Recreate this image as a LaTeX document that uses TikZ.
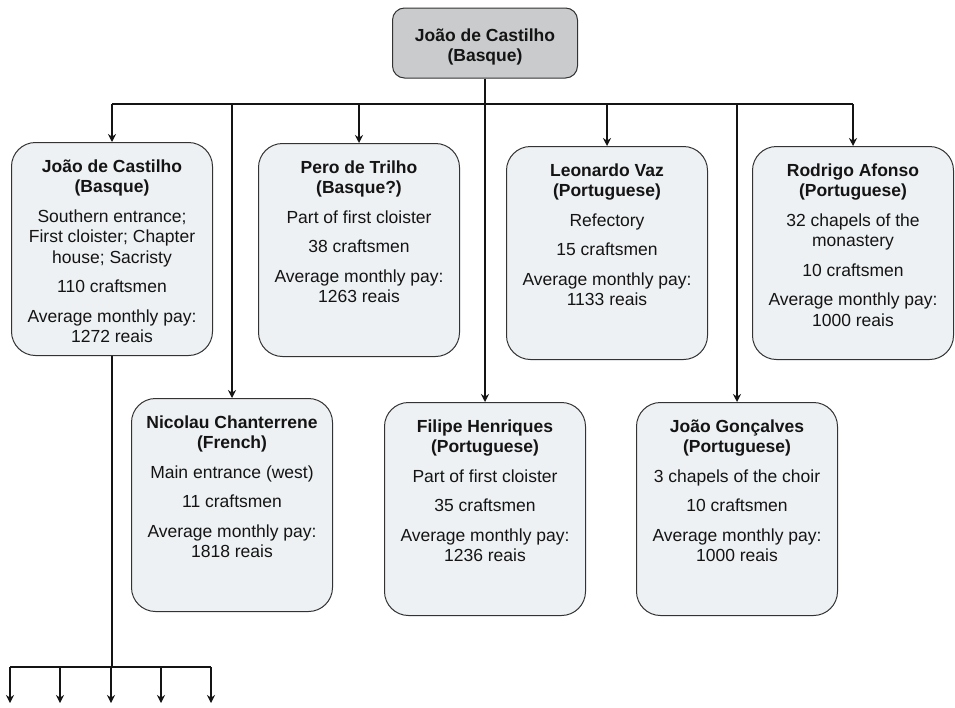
\documentclass[tikz,border=0pt]{standalone}
\usepackage{fontspec}
\setmainfont{Liberation Sans}
\usetikzlibrary{arrows.meta}
\definecolor{boxfill}{HTML}{EEF1F3}
\definecolor{headfill}{HTML}{C9CBCC}
\definecolor{boxline}{HTML}{333333}
\definecolor{ink}{HTML}{141414}
\begin{document}
\begin{tikzpicture}[x=1pt, y=-1pt, >={Stealth[length=8pt,width=8pt]}, line width=1.7pt, color=ink]
        \tikzset{%
         every crew/.style={
            draw=boxline,
            fill=boxfill,
            line width=1pt,
            rounded corners=24pt,
            inner sep=0pt,
            anchor=north,
            execute at begin node={\begin{minipage}[c][213pt][t]{201pt}\centering\fontsize{17.5}{20.5}\selectfont\vspace*{17pt}},
            execute at end node={\end{minipage}}},
         master/.style={
            draw=boxline,
            fill=headfill,
            line width=1pt,
            rounded corners=12pt,
            minimum width=185pt,
            minimum height=70pt,
            align=center,
            font=\bfseries\fontsize{17.5}{20.5}\selectfont},
        }
        \useasboundingbox (0,0) rectangle (955,707);

        \node [master] (master) at (485,43) {\rule{0pt}{21pt}João de Castilho\\(Basque)};

        % first row
        \node [every crew] (castilho) at (112,142) {\textbf{João de Castilho}\\\textbf{(Basque)}\\[9pt]
            Southern entrance;\\First cloister; Chapter\\house; Sacristy\\[9pt]
            110 craftsmen\\[9pt]Average monthly pay:\\1272 reais};
        \node [every crew] (trilho) at (359,143) {\textbf{Pero de Trilho}\\\textbf{(Basque?)}\\[9pt]
            Part of first cloister\\[9pt]38 craftsmen\\[9pt]Average monthly pay:\\1263 reais};
        \node [every crew] (vaz) at (607,146) {\textbf{Leonardo Vaz}\\\textbf{(Portuguese)}\\[9pt]
            Refectory\\[9pt]15 craftsmen\\[9pt]Average monthly pay:\\1133 reais};
        \node [every crew] (afonso) at (853,146) {\textbf{Rodrigo Afonso}\\\textbf{(Portuguese)}\\[9pt]
            32 chapels of the\\monastery\\[9pt]10 craftsmen\\[9pt]Average monthly pay:\\1000 reais};

        % second row
        \node [every crew] (chanterrene) at (232,398) {\textbf{Nicolau Chanterrene}\\\textbf{(French)}\\[9pt]
            Main entrance (west)\\[9pt]11 craftsmen\\[9pt]Average monthly pay:\\1818 reais};
        \node [every crew] (henriques) at (485,402) {\textbf{Filipe Henriques}\\\textbf{(Portuguese)}\\[9pt]
            Part of first cloister\\[9pt]35 craftsmen\\[9pt]Average monthly pay:\\1236 reais};
        \node [every crew] (goncalves) at (737,402) {\textbf{João Gonçalves}\\\textbf{(Portuguese)}\\[9pt]
            3 chapels of the choir\\[9pt]10 craftsmen\\[9pt]Average monthly pay:\\1000 reais};

        \coordinate (bus) at (0,104);
        \draw [->] (master.south) -- (henriques.north);
        \draw (castilho.north |- bus) -- (afonso.north |- bus);
        \foreach \n in {castilho,trilho,chanterrene,vaz,goncalves,afonso}
            \draw [->] (\n.north |- bus) -- (\n.north);

        % workers under the master
        \coordinate (fork) at (0,667);
        \foreach \x [count=\i] in {10,60,111,161,211}
            \coordinate (sub-\i) at (\x,703);
        \draw (castilho.south) -- (castilho.south |- fork);
        \draw (sub-1 |- fork) -- (sub-5 |- fork);
        \foreach \i in {1,...,5}
            \draw [->] (sub-\i |- fork) -- (sub-\i);
    \end{tikzpicture}
\end{document}
